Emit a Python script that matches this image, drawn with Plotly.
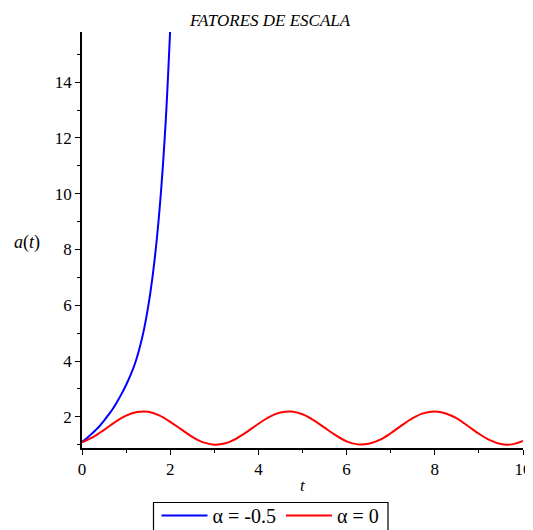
import plotly.graph_objects as go

# data
t_blue = [0.0, 0.1, 0.2, 0.3, 0.4, 0.5, 0.6, 0.7, 0.8, 0.9, 1.0,
          1.1, 1.2, 1.3, 1.4, 1.5, 1.6, 1.7, 1.8, 1.9, 2.0]
a_blue = [1.10, 1.22, 1.36, 1.51, 1.67, 1.86, 2.07, 2.29, 2.55, 2.83, 3.14,
          3.49, 3.90, 4.43, 5.09, 5.94, 7.03, 8.43, 10.26, 12.65, 15.9]

t_red = [0.0, 0.25, 0.5, 0.75, 1.0, 1.25, 1.5, 1.75, 2.0, 2.25, 2.5, 2.75,
         3.0, 3.25, 3.5, 3.75, 4.0, 4.25, 4.5, 4.75, 5.0, 5.25, 5.5, 5.75,
         6.0, 6.25, 6.5, 6.75, 7.0, 7.25, 7.5, 7.75, 8.0, 8.25, 8.5, 8.75,
         9.0, 9.25, 9.5, 9.75, 10.0]
a_red = [1.08, 1.27, 1.53, 1.81, 2.04, 2.17, 2.18, 2.05, 1.82, 1.55, 1.28, 1.08,
         1.00, 1.05, 1.22, 1.47, 1.75, 2.00, 2.15, 2.19, 2.09, 1.88, 1.61, 1.34,
         1.12, 1.01, 1.03, 1.17, 1.41, 1.69, 1.95, 2.13, 2.19, 2.12, 1.94, 1.67,
         1.39, 1.16, 1.02, 1.01, 1.13]

names = ["α = -0.5", "α = 0"]
colors = ["#0000FF", "#FF0000"]

x_ticks = [0, 2, 4, 6, 8, 10]
y_ticks = [2, 4, 6, 8, 10, 12, 14]

title_text = "FATORES DE ESCALA"
x_label = "<i>t</i>"
y_label = "<i>a</i>(<i>t</i>)"

SERIF = "'Times New Roman', 'Liberation Serif', 'DejaVu Serif', serif"

fig = go.Figure()
fig.add_trace(go.Scatter(x=t_blue, y=a_blue, mode="lines", name=names[0],
                         line=dict(color=colors[0], width=2, shape="spline")))
fig.add_trace(go.Scatter(x=t_red, y=a_red, mode="lines", name=names[1],
                         line=dict(color=colors[1], width=2, shape="spline")))

axis_common = dict(showgrid=False, zeroline=False, showline=True,
                   linecolor="black", linewidth=1.5, ticks="outside",
                   tickcolor="black", ticklen=5, tickwidth=1,
                   tickfont=dict(family=SERIF, size=17, color="black"),
                   minor=dict(ticks="outside", ticklen=3, tickcolor="black",
                              dtick=1, tickwidth=1))

fig.update_xaxes(range=[0, 10], tickvals=x_ticks, **axis_common)
fig.update_yaxes(range=[0.88, 15.8], tickvals=y_ticks, **axis_common)

# the page adds an 8px body margin, so the figure is shifted by 8px
W, H = 525, 522
L, R, T, B = 74, 10, 24, 82
pw = W - L - R
ph = H - T - B
OX, OY = 82, 448  # page position of the plot area's left / bottom edge


def px_x(p):
    return (p - OX) / pw


def px_y(p):
    return (OY - p) / ph


fig.update_layout(
    width=W, height=H,
    font=dict(family=SERIF, size=17, color="black"),
    margin=dict(l=L, r=R, t=T, b=B, autoexpand=False),
    paper_bgcolor="white", plot_bgcolor="white",
    title=dict(text="<i>" + title_text + "</i>", x=(270 - 8) / W, xref="container",
               xanchor="center", y=1 - (20 - 8) / H, yref="container",
               yanchor="middle",
               font=dict(family=SERIF, size=17, color="black")),
    showlegend=True,
    legend=dict(orientation="h", x=px_x(270.5), xanchor="center",
                y=px_y(496), yanchor="top", borderwidth=0,
                font=dict(family=SERIF, size=20, color="black"),
                bgcolor="rgba(0,0,0,0)", itemwidth=46),
    shapes=[
        dict(type="rect", xref="paper", yref="paper",
             x0=px_x(153.5), x1=px_x(388), y0=px_y(502.5), y1=px_y(545),
             line=dict(color="black", width=1.2), fillcolor="rgba(0,0,0,0)",
             layer="below"),
    ],
    annotations=[
        dict(text=x_label, x=px_x(303), y=px_y(485),
             xref="paper", yref="paper",
             xanchor="center", yanchor="middle", showarrow=False,
             font=dict(family=SERIF, size=17, color="black")),
        dict(text=y_label, x=px_x(27), y=px_y(242),
             xref="paper", yref="paper",
             xanchor="center", yanchor="middle", showarrow=False,
             font=dict(family=SERIF, size=18, color="black")),
    ],
)

fig.write_html("out.html")
